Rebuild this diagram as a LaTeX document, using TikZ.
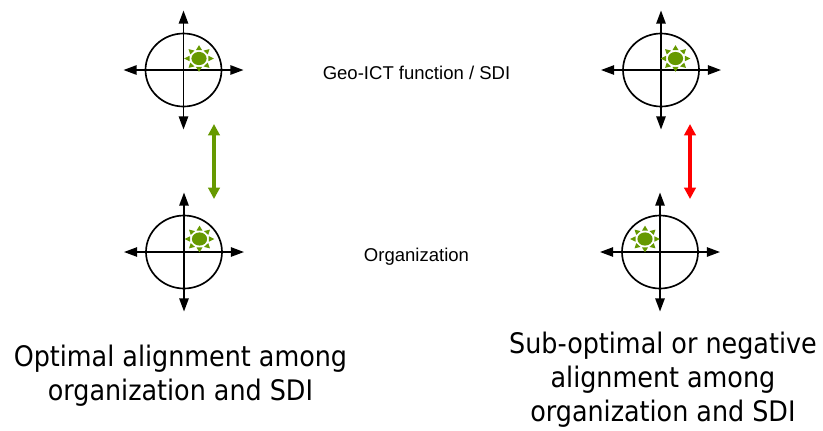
\documentclass[tikz,border=0pt]{standalone}
\usepackage{fontspec}
\setmainfont{Liberation Sans}
\newfontfamily\capfont{DejaVu Sans Condensed}
\usetikzlibrary{arrows.meta}
\definecolor{sungreen}{HTML}{669900}
\tikzset{
  x=0.75pt,y=-0.75pt,
  axis/.style={line width=1.15pt,draw=black,-{Triangle[length=9.8pt,width=7pt]}},
  ring/.style={draw=black,line width=1.25pt},
  ray/.style={fill=sungreen,draw=none},
  dbl/.style={line width=2.6pt,{Triangle[length=8.5pt,width=8.5pt]}-{Triangle[length=8.5pt,width=8.5pt]}},
  lbl/.style={font=\fontsize{13.9pt}{16pt}\selectfont,inner sep=0pt,anchor=center},
  captxt/.style={font=\capfont\fontsize{21.2pt}{25.5pt}\selectfont,align=center,inner sep=0pt,anchor=center},
  pics/compass/.style n args={2}{code={
    \draw[ring] (0,0) ellipse [x radius=38,y radius=36.5];
    \draw[axis] (0,0) -- (0,-59.5);
    \draw[axis] (0,0) -- (0,59.5);
    \draw[axis] (0,0) -- (60,0);
    \draw[axis] (0,0) -- (-60,0);
    \begin{scope}[shift={(#1,#2)}]
      \fill[sungreen] (0,0) ellipse [x radius=7.6,y radius=6.6];
      \begin{scope}[yscale=0.9]
      \foreach \a in {0,45,...,315}{
        \fill[ray,rotate=\a] (9.4,-3) -- (14.8,0) -- (9.4,3) -- cycle;
      }
      \end{scope}
    \end{scope}
  }}
}
\begin{document}
\begin{tikzpicture}
\useasboundingbox (0,0) rectangle (823,430);
\pic (c1) at (183.5,70) {compass={15.5}{-11.5}};
\pic (c2) at (661,70) {compass={14.5}{-11.5}};
\pic (c3) at (184,252) {compass={15.5}{-13}};
\pic (c4) at (660,252) {compass={-15}{-13}};
\coordinate (g1) at (214,124);
\coordinate (g2) at (214,199);
\coordinate (r1) at (690,124);
\coordinate (r2) at (690,199);
\draw[dbl,sungreen] (g1) -- (g2);
\draw[dbl,red] (r1) -- (r2);
\node[lbl] (t1) at (416.5,73) {Geo-ICT function / SDI};
\node[lbl] (t2) at (416.5,257) {Organization};
\node[captxt] (t3) at (180.5,376) {Optimal alignment among\\organization and SDI};
\node[captxt] (t4) at (663,380) {Sub-optimal or negative\\alignment among\\organization and SDI};
\end{tikzpicture}
\end{document}
